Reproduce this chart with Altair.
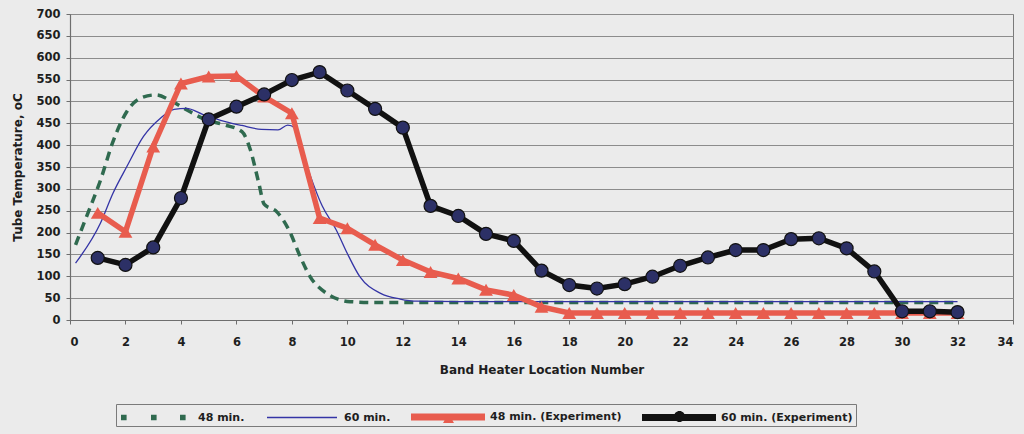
import altair as alt
import pandas as pd

# Band heater positions measured in the experiments
locations = list(range(1, 33))
exp_48 = [245, 202, 397, 541, 557, 558, 511, 473, 233, 210, 172, 137, 110, 95, 69, 57,
          30, 16, 16, 16, 16, 16, 16, 16, 16, 16, 16, 16, 16, 16, 16, 16]
exp_60 = [142, 126, 166, 279, 459, 488, 516, 549, 567, 525, 483, 440, 261, 238, 197, 181,
          113, 80, 72, 82, 99, 124, 143, 160, 160, 185, 187, 164, 111, 20, 20, 18]

# Model curves
model_48_x = [0.2, 0.55, 1.1, 1.55, 2.05, 2.6, 3.1, 3.6, 4.2, 4.9, 5.6, 6.2, 6.5, 6.8, 7.0,
              7.45, 7.9, 8.3, 8.65, 9.25, 10.1, 11, 12, 14, 16, 18, 20, 22, 24, 26, 28, 30, 32]
model_48_y = [172, 229, 320, 408, 477, 509, 515, 503, 481, 458, 446, 431, 390, 315, 265,
              248, 205, 145, 100, 61, 42, 40, 40, 40, 40, 40, 40, 40, 40, 40, 40, 40, 40]
model_60_x = [0.2, 1.1, 1.55, 2.05, 2.65, 3.25, 3.75, 4.2, 4.8, 5.6, 6.2, 6.9, 7.5, 7.85, 8.1,
              8.5, 9.1, 9.6, 10.0, 10.45, 11.2, 11.9, 12.5, 14, 16, 18, 20, 22, 24, 26, 28, 30, 32]
model_60_y = [130, 222, 290, 351, 420, 461, 482, 484, 470, 454, 445, 436, 435, 446, 440,
              360, 260, 206, 152, 99, 61, 48, 43, 42, 42, 42, 42, 42, 42, 42, 42, 42, 42]

series_names = ["48 min.", "60 min.", "48 min. (Experiment)", "60 min. (Experiment)"]
series_colors = ["#2f6a4f", "#3434a6", "#e85c4e", "#111111"]
# legend glyphs (line + marker), in symbol units; all subpaths wound the same way
series_glyphs = [
    "M-6.4,-0.28h0.56v0.56h-0.56Z M-3.4,-0.28h0.56v0.56h-0.56Z M-0.5,-0.28h0.56v0.56h-0.56Z",
    "M-6.4,-0.07H0.6V0.07H-6.4Z",
    "M-6.6,-0.35H0.8V0.35H-6.6Z M-2.85,-0.3L-2.3,0.6L-3.4,0.6Z",
    "M-6.6,-0.35H0.8V0.35H-6.6Z M-3.4,-0.1A0.55,0.55 0 1,1 -2.3,-0.1A0.55,0.55 0 1,1 -3.4,-0.1Z",
]

m48 = pd.DataFrame({"x": model_48_x, "y": model_48_y, "series": series_names[0]})
m60 = pd.DataFrame({"x": model_60_x, "y": model_60_y, "series": series_names[1]})
e48 = pd.DataFrame({"x": locations, "y": exp_48, "series": series_names[2]})
e60 = pd.DataFrame({"x": locations, "y": exp_60, "series": series_names[3]})
everything = pd.concat([m48, m60, e48, e60], ignore_index=True)

FONT = "DejaVu Sans"
TEXT = "#1e1e1e"

x_enc = alt.X(
    "x:Q",
    scale=alt.Scale(domain=[0, 34], nice=False, zero=False),
    axis=alt.Axis(
        values=list(range(0, 35, 2)), title="Band Heater Location Number",
        grid=False, tickSize=4, labelPadding=12, titleY=44,
    ),
)
y_enc = alt.Y(
    "y:Q",
    scale=alt.Scale(domain=[0, 700], nice=False),
    axis=alt.Axis(
        values=list(range(0, 701, 50)), title="Tube Temperature, oC",
        grid=True, tickSize=4, labelPadding=6, titleX=-46, titleY=153,
        labelOverlap=False,
    ),
)

green = alt.Chart(m48).mark_line(
    color=series_colors[0], strokeWidth=3.5, strokeDash=[9, 6], interpolate="monotone"
).encode(x=x_enc, y=y_enc)

blue = alt.Chart(m60).mark_line(
    color=series_colors[1], strokeWidth=1.3, interpolate="monotone"
).encode(x=x_enc, y=y_enc)

red_line = alt.Chart(e48).mark_line(
    color=series_colors[2], strokeWidth=5.5
).encode(x=x_enc, y=y_enc)
red_pts = alt.Chart(e48).mark_point(
    shape="triangle-up", filled=True, color=series_colors[2], size=190, opacity=1
).encode(x=x_enc, y=y_enc)

black_line = alt.Chart(e60).mark_line(
    color=series_colors[3], strokeWidth=5.5
).encode(x=x_enc, y=y_enc)
black_pts = alt.Chart(e60).mark_point(
    shape="circle", filled=True, fill="#2c3066", stroke="#111111", strokeWidth=1.2,
    size=170, opacity=1
).encode(x=x_enc, y=y_enc)

# legend carrier: no rows drawn, only the legend entries
key = alt.Chart(everything).transform_filter("datum.x < -1000").mark_point(
    filled=True, opacity=1
).encode(
    x=x_enc, y=y_enc,
    color=alt.Color("series:N", scale=alt.Scale(domain=series_names, range=series_colors),
                    legend=alt.Legend(title=None)),
    shape=alt.Shape("series:N", scale=alt.Scale(domain=series_names, range=series_glyphs),
                    legend=alt.Legend(title=None)),
)

chart = alt.layer(green, blue, red_line, red_pts, black_line, black_pts, key).properties(
    width=943, height=306,
    padding={"left": 70, "top": 14, "right": 11, "bottom": 114},
    autosize=alt.AutoSizeParams(type="none"),
    background="#ebebeb",
).configure_view(
    stroke="#7a7a7a", strokeWidth=1, fill="#ebebeb"
).configure_axis(
    labelFont=FONT, labelFontWeight="bold", labelFontSize=11.5, labelColor=TEXT,
    titleFont=FONT, titleFontWeight="bold", titleFontSize=12, titleColor=TEXT,
    domainColor="#6e6e6e", tickColor="#6e6e6e", gridColor="#8c8c8c", gridWidth=1,
    domainWidth=1.2,
).configure_legend(
    orient="none", legendX=46, legendY=390, direction="horizontal", columns=4,
    strokeColor="#7a7a7a", fillColor="#ebebeb", padding=3,
    symbolSize=400, symbolStrokeWidth=0, symbolOpacity=1, symbolOffset=56,
    labelFont=FONT, labelFontWeight="bold", labelFontSize=11, labelColor=TEXT,
    labelOffset=3, columnPadding=20,
)

chart.save("out.html", embed_options={"renderer": "svg", "actions": False})
